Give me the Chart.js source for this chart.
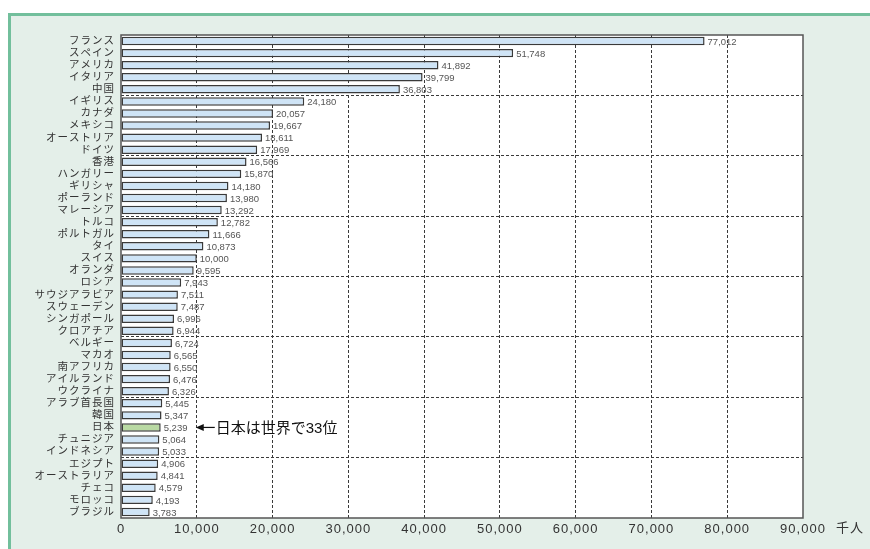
<!DOCTYPE html>
<html>
<head>
<meta charset="utf-8">
<script src="https://cdn.jsdelivr.net/npm/chart.js@4.4.1/dist/chart.umd.min.js"></script>
<style>
  html, body { margin: 0; padding: 0; background: #ffffff; }
  #wrap { position: relative; width: 870px; height: 549px; overflow: hidden; }
  #panel {
    position: absolute; left: 8px; top: 13px; width: 880px; height: 560px;
    background: #e4efe9; border-left: 3px solid #72bf9c; border-top: 3px solid #72bf9c;
  }
  #chart { position: absolute; left: 0; top: 0; }
</style>
</head>
<body>
<div id="wrap">
  <div id="panel"></div>
  <canvas id="chart" width="870" height="549"></canvas>
</div>
<script>
// countries, top to bottom
const countries = ['フランス', 'スペイン', 'アメリカ', 'イタリア', '中国', 'イギリス', 'カナダ', 'メキシコ', 'オーストリア', 'ドイツ',
  '香港', 'ハンガリー', 'ギリシャ', 'ポーランド', 'マレーシア', 'トルコ', 'ポルトガル', 'タイ', 'スイス', 'オランダ',
  'ロシア', 'サウジアラビア', 'スウェーデン', 'シンガポール', 'クロアチア', 'ベルギー', 'マカオ', '南アフリカ', 'アイルランド', 'ウクライナ',
  'アラブ首長国', '韓国', '日本', 'チュニジア', 'インドネシア', 'エジプト', 'オーストラリア', 'チェコ', 'モロッコ', 'ブラジル'];

// visitors (thousand people)
const visitors = [77012, 51748, 41892, 39799, 36803, 24180, 20057, 19667, 18611, 17969,
  16566, 15870, 14180, 13980, 13292, 12782, 11666, 10873, 10000, 9595,
  7943, 7511, 7487, 6996, 6944, 6724, 6565, 6550, 6476, 6326,
  5445, 5347, 5239, 5064, 5033, 4906, 4841, 4579, 4193, 3783];

const xTicks = [0, 10000, 20000, 30000, 40000, 50000, 60000, 70000, 80000, 90000];
const unitLabel = '千人';
const highlight = '日本';
const noteText = '日本は世界で33位';

const fontFamily = "'Liberation Sans', 'Noto Sans CJK JP', sans-serif";

const fills = countries.map(c => c === highlight ? '#b9d9a3' : '#cfe4f6');

// white plot background + frame, value labels, note and unit
const decorPlugin = {
    id: 'decor',
    beforeDraw(chart) {
        const a = chart.chartArea;
        const ctx = chart.ctx;
        ctx.save();
        ctx.fillStyle = '#ffffff';
        ctx.fillRect(a.left, a.top, a.right - a.left, a.bottom - a.top);
        ctx.restore();
        // the axis labels are set a little loose, like the printed chart
        ctx.letterSpacing = '1px';
    },
    beforeDatasetsDraw(chart) {
        chart.ctx.letterSpacing = '0px';
    },
    afterDraw(chart) {
        const a = chart.chartArea;
        const ctx = chart.ctx;
        const xs = chart.scales.x;
        const ys = chart.scales.y;
        ctx.save();
        ctx.letterSpacing = '0px';

        // value labels
        ctx.font = '9.5px ' + fontFamily;
        ctx.fillStyle = '#555555';
        ctx.textAlign = 'left';
        ctx.textBaseline = 'middle';
        chart.getDatasetMeta(0).data.forEach((bar, i) => {
            ctx.fillText(visitors[i].toLocaleString('en-US'), bar.x + 3, bar.y + 1);
        });

        // frame
        ctx.strokeStyle = '#555555';
        ctx.lineWidth = 1.5;
        ctx.strokeRect(a.left, a.top, a.right - a.left, a.bottom - a.top);

        // note with arrow pointing at Japan
        const jy = ys.getPixelForValue(countries.indexOf(highlight));
        const ax = xs.getPixelForValue(10000);
        ctx.strokeStyle = '#111111';
        ctx.fillStyle = '#111111';
        ctx.lineWidth = 1.2;
        ctx.beginPath();
        ctx.moveTo(ax + 2, jy);
        ctx.lineTo(ax + 18, jy);
        ctx.stroke();
        ctx.beginPath();
        ctx.moveTo(ax - 1, jy);
        ctx.lineTo(ax + 7, jy - 3.5);
        ctx.lineTo(ax + 7, jy + 3.5);
        ctx.closePath();
        ctx.fill();
        ctx.font = '15px ' + fontFamily;
        ctx.textBaseline = 'middle';
        ctx.fillText(noteText, ax + 19, jy + 1);

        // unit
        ctx.font = '13px ' + fontFamily;
        ctx.fillStyle = '#333333';
        ctx.letterSpacing = '1px';
        ctx.textBaseline = 'middle';
        ctx.fillText(unitLabel, xs.getPixelForValue(90000) + 33, a.bottom + 10);
        ctx.restore();
    }
};

new Chart(document.getElementById('chart'), {
    type: 'bar',
    data: {
        labels: countries,
        datasets: [{
            data: visitors,
            backgroundColor: fills,
            borderColor: '#3a3a3a',
            borderWidth: 1.5,
            borderSkipped: false,
            categoryPercentage: 1,
            barPercentage: 0.7
        }]
    },
    options: {
        indexAxis: 'y',
        responsive: false,
        animation: false,
        devicePixelRatio: 1,
        layout: { padding: { left: 0, right: 67, top: 35, bottom: 0 } },
        plugins: {
            legend: { display: false },
            tooltip: { enabled: false }
        },
        scales: {
            x: {
                min: 0,
                max: 90000,
                afterBuildTicks(scale) {
                    scale.ticks = xTicks.map(v => ({ value: v }));
                },
                afterFit(scale) { scale.height = 31; },
                border: { display: false, dash: [3, 2] },
                grid: {
                    drawTicks: false,
                    color: ctx => (ctx.index === 0 || ctx.index === xTicks.length - 1) ? 'rgba(0,0,0,0)' : '#3a3a3a',
                    lineWidth: 1
                },
                ticks: {
                    padding: 4,
                    color: '#333333',
                    font: { size: 13, family: fontFamily },
                    callback: v => Number(v).toLocaleString('en-US')
                }
            },
            y: {
                afterFit(scale) { scale.width = 121; },
                border: { display: false, dash: [3, 2] },
                grid: {
                    drawTicks: false,
                    color: ctx => (ctx.index % 5 === 0 && ctx.index > 0 && ctx.index < countries.length) ? '#3a3a3a' : 'rgba(0,0,0,0)',
                    lineWidth: 1
                },
                ticks: {
                    padding: 6,
                    autoSkip: false,
                    color: '#333333',
                    font: { size: 10.5, family: fontFamily }
                }
            }
        }
    },
    plugins: [decorPlugin]
});
</script>
</body>
</html>
